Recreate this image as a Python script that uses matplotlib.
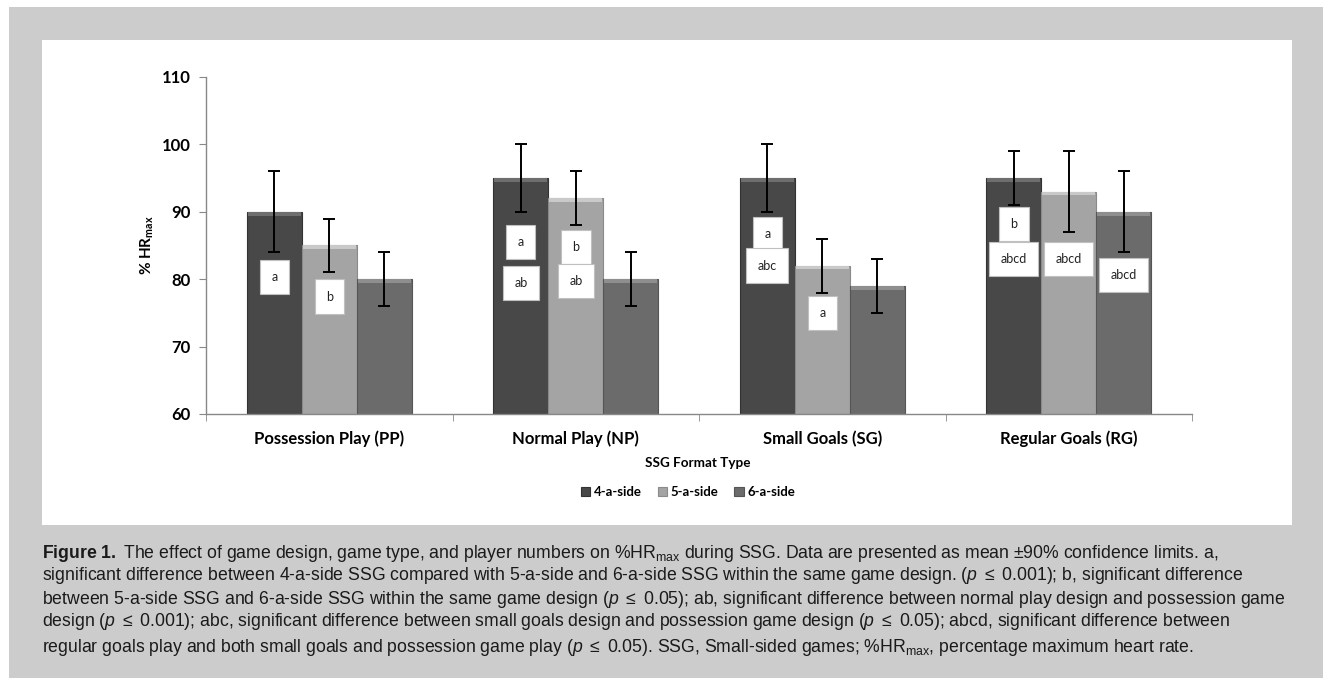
import matplotlib.pyplot as plt
import matplotlib.patches as mpatches
import numpy as np

plt.rcParams['mathtext.fontset'] = 'custom'
plt.rcParams['mathtext.rm'] = 'Liberation Sans'
plt.rcParams['mathtext.it'] = 'Liberation Sans:italic'
plt.rcParams['mathtext.bf'] = 'Liberation Sans:bold'

categories = ['Possession Play (PP)', 'Normal Play (NP)', 'Small Goals (SG)', 'Regular Goals (RG)']
series = ['4-a-side', '5-a-side', '6-a-side']
means = [[90, 95, 95, 95],
         [85, 92, 82, 93],
         [80, 80, 79, 90]]
err_low = [[84, 90, 90, 91],
           [81, 88, 78, 87],
           [76, 76, 75, 84]]
err_high = [[96, 100, 100, 99],
            [89, 96, 86, 99],
            [84, 84, 83, 96]]
# (category, series, label, y)
labels = [(0, 0, 'a', 80.3), (0, 1, 'b', 77.4),
          (1, 0, 'a', 85.5), (1, 0, 'ab', 79.4), (1, 1, 'b', 84.8), (1, 1, 'ab', 79.7),
          (2, 0, 'a', 86.7), (2, 0, 'abc', 82.0), (2, 1, 'a', 75.0),
          (3, 0, 'b', 88.2), (3, 0, 'abcd', 83.0), (3, 1, 'abcd', 83.0), (3, 2, 'abcd', 80.6)]

colors = ['#484848', '#a4a4a4', '#6b6b6b']
tops = ['#6e6e6e', '#c9c9c9', '#8e8e8e']
edges = ['#333333', '#8a8a8a', '#555555']

chart_font = 'Lato'

fig = plt.figure(figsize=(13.23, 6.78), dpi=100, facecolor='white')
W, H = 1323, 678
fig.patches.append(mpatches.Rectangle((9 / W, 0), 1, 1 - 7 / H, transform=fig.transFigure,
                                      facecolor='#cccccc', edgecolor='none', zorder=-2))
fig.patches.append(mpatches.Rectangle((42 / W, 1 - 525 / H), (1292 - 42) / W, (525 - 40) / H,
                                      transform=fig.transFigure, facecolor='white',
                                      edgecolor='none', zorder=-1))

ax = fig.add_axes([206 / W, 1 - 414 / H, (1192 - 206) / W, (414 - 77) / H])
ax.set_facecolor('none')

x = np.arange(len(categories))
bw = 0.223
for i, name in enumerate(series):
    xs = x + (i - 1) * bw
    m = np.array(means[i])
    ax.bar(xs, m - 60, bw, bottom=60, color=colors[i], edgecolor=edges[i], linewidth=0.8,
           label=name, zorder=2)
    ax.bar(xs, 0.55, bw * 0.96, bottom=m - 0.55, color=tops[i], linewidth=0, zorder=3)
    yerr = [m - np.array(err_low[i]), np.array(err_high[i]) - m]
    ax.errorbar(xs, m, yerr=yerr, fmt='none', ecolor='black', elinewidth=1.4,
                capsize=4, capthick=1.4, zorder=4)

for c, s, txt, y in labels:
    ax.text(x[c] + (s - 1) * bw, y, txt, ha='center', va='center', fontsize=9,
            family=chart_font, color='#222222', zorder=5,
            bbox=dict(boxstyle='square,pad=0.9', facecolor='white', edgecolor='#c0c0c0', linewidth=0.8))

ax.set_xlim(-0.5, 3.5)
ax.set_ylim(60, 110)
ax.set_yticks(range(60, 111, 10))
ax.set_xticks(x)
ax.set_xticklabels(categories, fontsize=12, fontweight='bold', family=chart_font)
ax.set_xticks(np.arange(-0.5, 3.6, 1), minor=True)
ax.tick_params(axis='x', which='major', length=0, pad=12)
ax.tick_params(axis='x', which='minor', length=5, color='#888888')
ax.tick_params(axis='y', length=5, color='#888888', labelsize=12, pad=6)
for t in ax.get_yticklabels():
    t.set_fontweight('bold')
    t.set_family(chart_font)
for side in ['top', 'right']:
    ax.spines[side].set_visible(False)
for side in ['left', 'bottom']:
    ax.spines[side].set_color('#888888')
    ax.spines[side].set_linewidth(1)

ax.set_ylabel(r'% HR$_{\mathregular{max}}$', fontsize=11, fontweight='bold', family=chart_font, labelpad=4)
fig.text(698 / W, 1 - 463 / H, 'SSG Format Type', ha='center', va='center', fontsize=9.7,
         fontweight='bold', family=chart_font)

fig.legend(*ax.get_legend_handles_labels(), loc='center', bbox_to_anchor=(688 / W, 1 - 492 / H),
           ncol=3, frameon=False, handlelength=0.7, handleheight=0.7, handletextpad=0.3,
           columnspacing=1.2, prop=dict(family=chart_font, weight='bold', size=9.5))

caption = [
    r'$\mathbf{Figure\ 1.}$ The effect of game design, game type, and player numbers on %HR$_{\mathrm{max}}$ during SSG. Data are presented as mean $\pm$90% confidence limits. a,',
    r'significant difference between 4-a-side SSG compared with 5-a-side and 6-a-side SSG within the same game design. ($\it{p}$ $\leq$ 0.001); b, significant difference',
    r'between 5-a-side SSG and 6-a-side SSG within the same game design ($\it{p}$ $\leq$ 0.05); ab, significant difference between normal play design and possession game',
    r'design ($\it{p}$ $\leq$ 0.001); abc, significant difference between small goals design and possession game design ($\it{p}$ $\leq$ 0.05); abcd, significant difference between',
    r'regular goals play and both small goals and possession game play ($\it{p}$ $\leq$ 0.05). SSG, Small-sided games; %HR$_{\mathrm{max}}$, percentage maximum heart rate.',
]
ys = [553, 576, 599, 622, 647]
for line, y in zip(caption, ys):
    fig.text(42 / W, 1 - y / H, line, ha='left', va='center', fontsize=12.7,
             family=['Liberation Sans', 'DejaVu Sans'], color='#1a1a1a')

plt.savefig('out.png', dpi=100, facecolor=fig.get_facecolor())
